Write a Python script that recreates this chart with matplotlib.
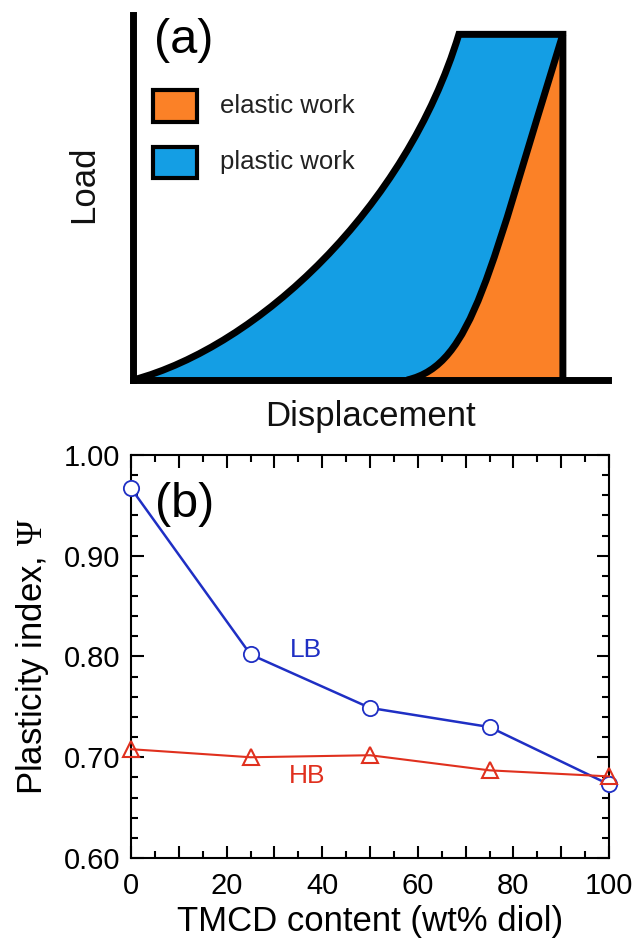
import matplotlib
matplotlib.use("Agg")
import matplotlib.pyplot as plt
from matplotlib.path import Path
from matplotlib.patches import PathPatch, Rectangle
from matplotlib.ticker import MultipleLocator, FuncFormatter

plt.rcParams["font.family"] = ["Liberation Sans", "DejaVu Sans"]
plt.rcParams["mathtext.fontset"] = "custom"
plt.rcParams["mathtext.rm"] = "Liberation Serif"
plt.rcParams["mathtext.it"] = "Liberation Serif:italic"

# schematic load-displacement curve, bezier control points (displacement, load)
loading_ctrl = [(0.0, 0.0), (26.4, 9.2), (57.5, 47.1), (68.6, 94.7)]
hold_end = (90.5, 94.7)
unloading_ctrl = [(57.7, 0.0), (71.7, 4.2), (74.9, 29.5), (90.5, 94.7)]

# plasticity index vs TMCD content
tmcd = [0, 25, 50, 75, 100]
psi_lb = [0.967, 0.802, 0.749, 0.730, 0.673]
psi_hb = [0.708, 0.700, 0.702, 0.687, 0.681]

blue_fill = "#149ee4"
orange_fill = "#fb8127"

fig = plt.figure(figsize=(6.34, 9.43), dpi=100)

# ---- (a) schematic ----
ax1 = fig.add_axes([133 / 634, 1 - 380 / 943, 475 / 634, 365 / 943])
ax1.set_xlim(0, 100)
ax1.set_ylim(0, 100)
for side in ("top", "right"):
    ax1.spines[side].set_visible(False)
for side in ("left", "bottom"):
    ax1.spines[side].set_linewidth(5)
    ax1.spines[side].set_capstyle("projecting")
ax1.set_xticks([])
ax1.set_yticks([])
ax1.patch.set_visible(False)

C4 = Path.CURVE4
u0, u1, u2, u3 = unloading_ctrl

plastic_verts = list(loading_ctrl) + [hold_end, u2, u1, u0, loading_ctrl[0], loading_ctrl[0]]
plastic_codes = [Path.MOVETO, C4, C4, C4, Path.LINETO, C4, C4, C4, Path.LINETO, Path.CLOSEPOLY]
ax1.add_patch(PathPatch(Path(plastic_verts, plastic_codes), facecolor=blue_fill,
                        edgecolor="none", clip_on=False, zorder=1))

elastic_verts = list(unloading_ctrl) + [(hold_end[0], 0.0), u0]
elastic_codes = [Path.MOVETO, C4, C4, C4, Path.LINETO, Path.CLOSEPOLY]
ax1.add_patch(PathPatch(Path(elastic_verts, elastic_codes), facecolor=orange_fill,
                        edgecolor="none", clip_on=False, zorder=1))

outline_verts = list(loading_ctrl) + [hold_end, (hold_end[0], 0.0)]
outline_codes = [Path.MOVETO, C4, C4, C4, Path.LINETO, Path.LINETO]
ax1.add_patch(PathPatch(Path(outline_verts, outline_codes), facecolor="none",
                        edgecolor="black", linewidth=5, joinstyle="miter",
                        clip_on=False, zorder=2))
ax1.add_patch(PathPatch(Path(unloading_ctrl, [Path.MOVETO, C4, C4, C4]), facecolor="none",
                        edgecolor="black", linewidth=5, clip_on=False, zorder=2))

# legend boxes
ax1.add_patch(Rectangle((4.2, 70.7), 9.3, 8.8, facecolor=orange_fill, edgecolor="black",
                        linewidth=3, zorder=3))
ax1.add_patch(Rectangle((4.2, 55.3), 9.3, 8.5, facecolor=blue_fill, edgecolor="black",
                        linewidth=3, zorder=3))
ax1.text(18.3, 75.1, "elastic work", fontsize=18.5, color="#222222", va="center")
ax1.text(18.3, 59.6, "plastic work", fontsize=18.5, color="#222222", va="center")
ax1.text(10.7, 93.0, "(a)", fontsize=35, ha="center", va="center")

fig.text(83.5 / 634, 1 - 184.5 / 943, "Load", fontsize=25, rotation=90,
         ha="center", va="center", color="#111111")
fig.text(370 / 634, 1 - 416 / 943, "Displacement", fontsize=25,
         ha="center", va="center", color="#111111")

# ---- (b) plasticity index ----
ax2 = fig.add_axes([131 / 634, 1 - 858 / 943, 478 / 634, 403 / 943])
ax2.plot(tmcd, psi_lb, color="#1f2fc4", linewidth=1.8, marker="o", markersize=11,
         markerfacecolor="white", markeredgecolor="#1f2fc4", markeredgewidth=1.3,
         clip_on=False, zorder=3)
ax2.plot(tmcd, psi_hb, color="#e0301e", linewidth=1.5, marker="^", markersize=11,
         markerfacecolor="none", markeredgecolor="#e0301e", markeredgewidth=1.5,
         clip_on=False, zorder=4)
ax2.text(36.7, 0.806, "LB", fontsize=19, color="#1f2fc4", ha="center", va="center")
ax2.text(36.9, 0.681, "HB", fontsize=19, color="#e0301e", ha="center", va="center")
ax2.text(11.3, 0.951, "(b)", fontsize=35, ha="center", va="center")

ax2.set_xlim(0, 100)
ax2.set_ylim(0.60, 1.00)
ax2.xaxis.set_major_locator(MultipleLocator(10))
ax2.xaxis.set_major_formatter(FuncFormatter(lambda v, p: "%d" % v if round(v) % 20 == 0 else ""))
ax2.xaxis.set_minor_locator(MultipleLocator(5))
ax2.yaxis.set_major_locator(MultipleLocator(0.1))
ax2.yaxis.set_major_formatter(FuncFormatter(lambda v, p: "%.2f" % v))
ax2.yaxis.set_minor_locator(MultipleLocator(0.02))
ax2.tick_params(which="both", direction="in", top=True, right=True, width=1.5,
                labelsize=21)
ax2.tick_params(which="major", length=9)
ax2.tick_params(axis="x", which="major", pad=10)
ax2.tick_params(axis="y", which="major", pad=8)
ax2.tick_params(which="minor", length=5)
for s in ax2.spines.values():
    s.set_linewidth(1.5)

ax2.set_xlabel("TMCD content (wt% diol)", fontsize=25, labelpad=4)
ax2.set_ylabel(r"Plasticity index, $\Psi$", fontsize=25, labelpad=9)

fig.savefig("out.png", dpi=100)
